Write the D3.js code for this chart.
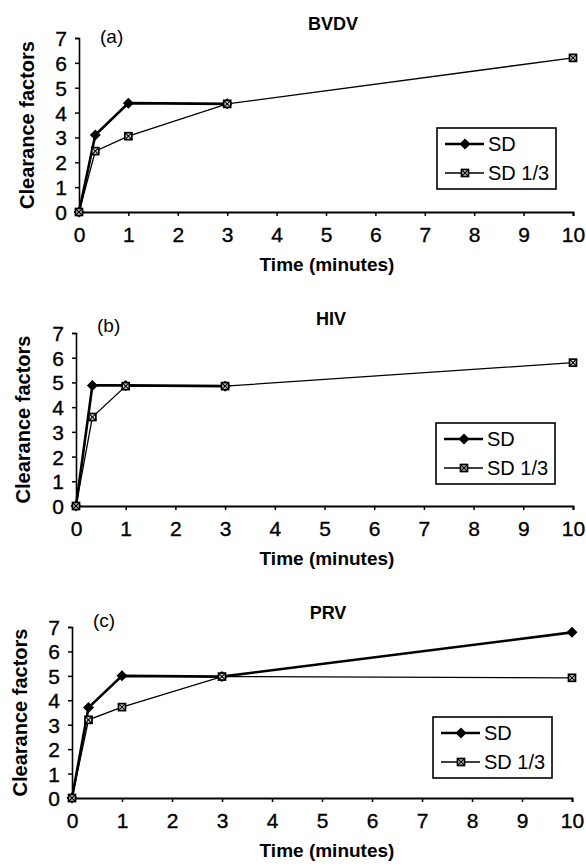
<!DOCTYPE html>
<html>
<head>
<meta charset="utf-8">
<script src="https://cdn.jsdelivr.net/npm/d3@7"></script>
<style>
  body { margin: 0; background: #fff; }
  svg { display: block; font-family: "Liberation Sans", Arial, sans-serif; }
  .title, .xlabel, .ylabel { font-weight: bold; }
  .tick text { stroke: #000; stroke-width: 0.35px; }
</style>
</head>
<body>
<svg id="chart" width="586" height="868"></svg>
<script>
// Data
const times = [0, 0.33, 1, 3, 10];
const viruses = ["BVDV", "HIV", "PRV"];
const panelTags = ["(a)", "(b)", "(c)"];
const seriesNames = ["SD", "SD 1/3"];
const xTicks = [0, 1, 2, 3, 4, 5, 6, 7, 8, 9, 10];
const yTicks = [0, 1, 2, 3, 4, 5, 6, 7];

const sdBVDV  = [0, 3.1, 4.38, 4.35, null];
const sd3BVDV = [0, 2.45, 3.05, 4.35, 6.2];
const sdHIV   = [0, 4.88, 4.88, 4.85, null];
const sd3HIV  = [0, 3.6, 4.85, 4.85, 5.8];
const sdPRV   = [0, 3.7, 5.0, 4.97, 6.78];
const sd3PRV  = [0, 3.2, 3.72, 4.97, 4.92];

const sdValues  = [sdBVDV, sdHIV, sdPRV];
const sd3Values = [sd3BVDV, sd3HIV, sd3PRV];

// pixel layout of each panel (plot area corners, label offsets)
const layout = [
  {x0: 79, x1: 573, y0: 212, y1: 38,  tagDy: 5,  titleX: 333, ylabX: 27, legX: 437, legY: 128},
  {x0: 76, x1: 573, y0: 506, y1: 333, tagDy: -1, titleX: 331, ylabX: 23, legX: 436, legY: 423},
  {x0: 72, x1: 572, y0: 798, y1: 627, tagDy: 0,  titleX: 328, ylabX: 20, legX: 433, legY: 717}
];

const svg = d3.select("#chart");

function diamond(g, cx, cy, r) {
  g.append("path")
   .attr("d", `M${cx},${cy - r}L${cx + r},${cy}L${cx},${cy + r}L${cx - r},${cy}Z`)
   .attr("fill", "#000");
}

function squareMark(g, cx, cy, r) {
  g.append("rect")
   .attr("x", cx - r).attr("y", cy - r)
   .attr("width", 2 * r).attr("height", 2 * r)
   .attr("fill", "#ddd").attr("stroke", "#000").attr("stroke-width", 1.7);
  g.append("path")
   .attr("d", `M${cx - r},${cy - r}L${cx + r},${cy + r}M${cx + r},${cy - r}L${cx - r},${cy + r}`)
   .attr("stroke", "#000").attr("stroke-width", 1.1);
}

viruses.forEach((name, i) => {
  const L = layout[i];
  const x = d3.scaleLinear().domain([0, 10]).range([L.x0, L.x1]);
  const y = d3.scaleLinear().domain([0, 7]).range([L.y0, L.y1]);
  const g = svg.append("g");

  // x axis
  const xa = g.append("g")
    .attr("transform", "translate(0," + L.y0 + ")")
    .call(d3.axisBottom(x).tickValues(xTicks).tickFormat(d3.format("d"))
      .tickSize(4).tickSizeOuter(4).tickPadding(11));
  xa.select(".domain").attr("stroke-width", 2);
  xa.selectAll(".tick line").attr("stroke-width", 1.5);

  // y axis
  const ya = g.append("g")
    .attr("transform", "translate(" + L.x0 + ",0)")
    .call(d3.axisLeft(y).tickValues(yTicks).tickFormat(d3.format("d"))
      .tickSize(4).tickSizeOuter(4).tickPadding(8));
  ya.select(".domain").attr("stroke-width", 1.6);
  ya.selectAll(".tick line").attr("stroke-width", 1.5);
  ya.selectAll(".tick text").attr("dy", "0.36em");
  xa.attr("font-size", 21).attr("font-family", null);
  ya.attr("font-size", 21).attr("font-family", null);

  // titles
  g.append("text").attr("class", "title")
    .attr("x", L.titleX).attr("y", L.y1 - 8)
    .attr("text-anchor", "middle").attr("font-size", 18)
    .text(name);
  g.append("text")
    .attr("x", L.x0 + 21).attr("y", L.y1 + L.tagDy)
    .attr("font-size", 19)
    .text(panelTags[i]);
  g.append("text").attr("class", "xlabel")
    .attr("x", 327).attr("y", L.y0 + 59)
    .attr("text-anchor", "middle").attr("font-size", 19)
    .text("Time (minutes)");
  g.append("text").attr("class", "ylabel")
    .attr("transform", `translate(${L.ylabX},${(L.y0 + L.y1) / 2}) rotate(-90)`)
    .attr("text-anchor", "middle").attr("dy", "0.36em").attr("font-size", 20)
    .text("Clearance factors");

  const line = d3.line()
    .defined(d => d[1] !== null)
    .x(d => x(d[0])).y(d => y(d[1]));

  const sdPts = times.map((t, k) => [t, sdValues[i][k]]);
  const sd3Pts = times.map((t, k) => [t, sd3Values[i][k]]);

  g.append("path").datum(sdPts).attr("d", line)
    .attr("fill", "none").attr("stroke", "#000").attr("stroke-width", 2.6);
  sdPts.filter(d => d[1] !== null).forEach(d => diamond(g, x(d[0]), y(d[1]), 5.5));

  g.append("path").datum(sd3Pts).attr("d", line)
    .attr("fill", "none").attr("stroke", "#000").attr("stroke-width", 1.3);
  sd3Pts.forEach(d => squareMark(g, x(d[0]), y(d[1]), 3.5));

  // legend
  const lg = g.append("g").attr("transform", `translate(${L.legX},${L.legY})`);
  lg.append("rect").attr("width", 119).attr("height", 61)
    .attr("fill", "#fff").attr("stroke", "#000").attr("stroke-width", 1.6);
  seriesNames.forEach((s, k) => {
    const ly = 16 + k * 29;
    lg.append("line").attr("x1", 8).attr("x2", 47).attr("y1", ly).attr("y2", ly)
      .attr("stroke", "#000").attr("stroke-width", k === 0 ? 2.6 : 1.3);
    if (k === 0) diamond(lg, 28, ly, 5.5); else squareMark(lg, 28, ly, 3.5);
    lg.append("text").attr("x", 51).attr("y", ly).attr("dy", "0.36em")
      .attr("font-size", 20).text(s);
  });
});
</script>
</body>
</html>
